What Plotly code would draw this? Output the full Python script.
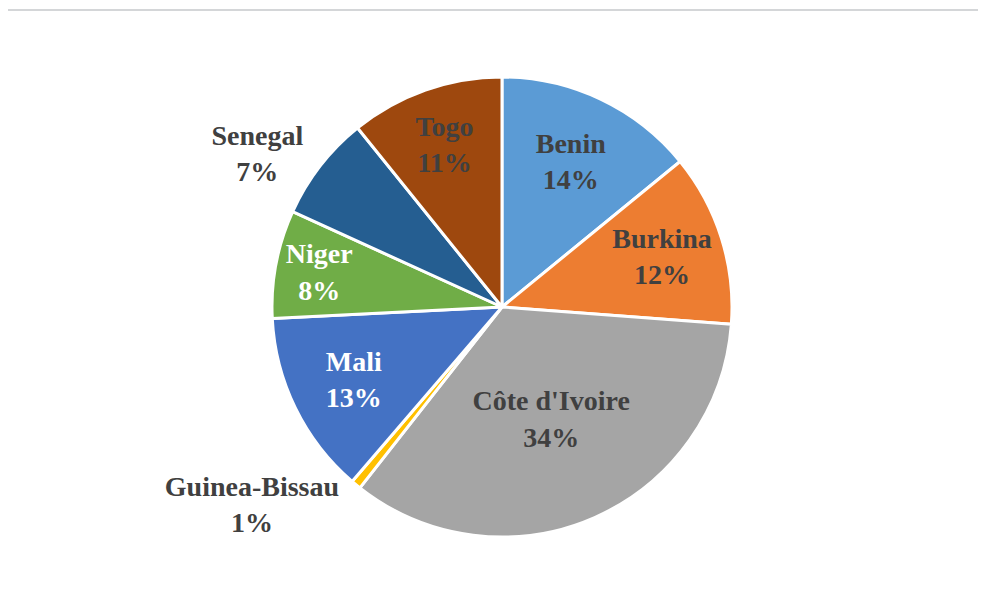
import plotly.graph_objects as go

# share of each country (clockwise from 12 o'clock)
countries = ['Benin', 'Burkina', "Côte d'Ivoire", 'Guinea-Bissau',
             'Mali', 'Niger', 'Senegal', 'Togo']
shares = [14.1, 12.1, 34.4, 0.7, 12.9, 7.6, 7.4, 10.8]

colors = ['#5B9BD5', '#ED7D31', '#A5A5A5', '#FFC000',
          '#4472C4', '#70AD47', '#255E91', '#9E480E']
text_colors = ['#404040', '#404040', '#404040', '#404040',
               '#FFFFFF', '#FFFFFF', '#404040', '#404040']
text_pos = ['inside', 'inside', 'inside', 'outside',
            'inside', 'inside', 'outside', 'inside']

fig = go.Figure(go.Pie(
    labels=countries,
    values=shares,
    sort=False,
    direction='clockwise',
    rotation=0,
    marker=dict(colors=colors, line=dict(color='white', width=3)),
    texttemplate='<b>%{label}<br>%{percent:.0%}</b>',
    textposition=text_pos,
    insidetextorientation='horizontal',
    insidetextfont=dict(color=text_colors, size=28, family='Liberation Serif'),
    outsidetextfont=dict(color='#404040', size=28, family='Liberation Serif'),
    hoverinfo='label+percent',
    domain=dict(x=[0.002, 1.0], y=[0, 1]),
    showlegend=False,
))

fig.update_layout(
    width=986, height=599,
    margin=dict(l=0, r=0, t=69, b=70, autoexpand=False),
    paper_bgcolor='white',
    font=dict(family='Liberation Serif', color='#404040'),
    uniformtext=dict(minsize=28, mode='show'),
    shapes=[
        dict(type='line', xref='paper', yref='paper', x0=-0.01, x1=1.01,
             y0=1 + 67 / 460, y1=1 + 67 / 460,
             line=dict(color='#D4D6D8', width=2)),
    ],
)

fig.write_html("out.html")
